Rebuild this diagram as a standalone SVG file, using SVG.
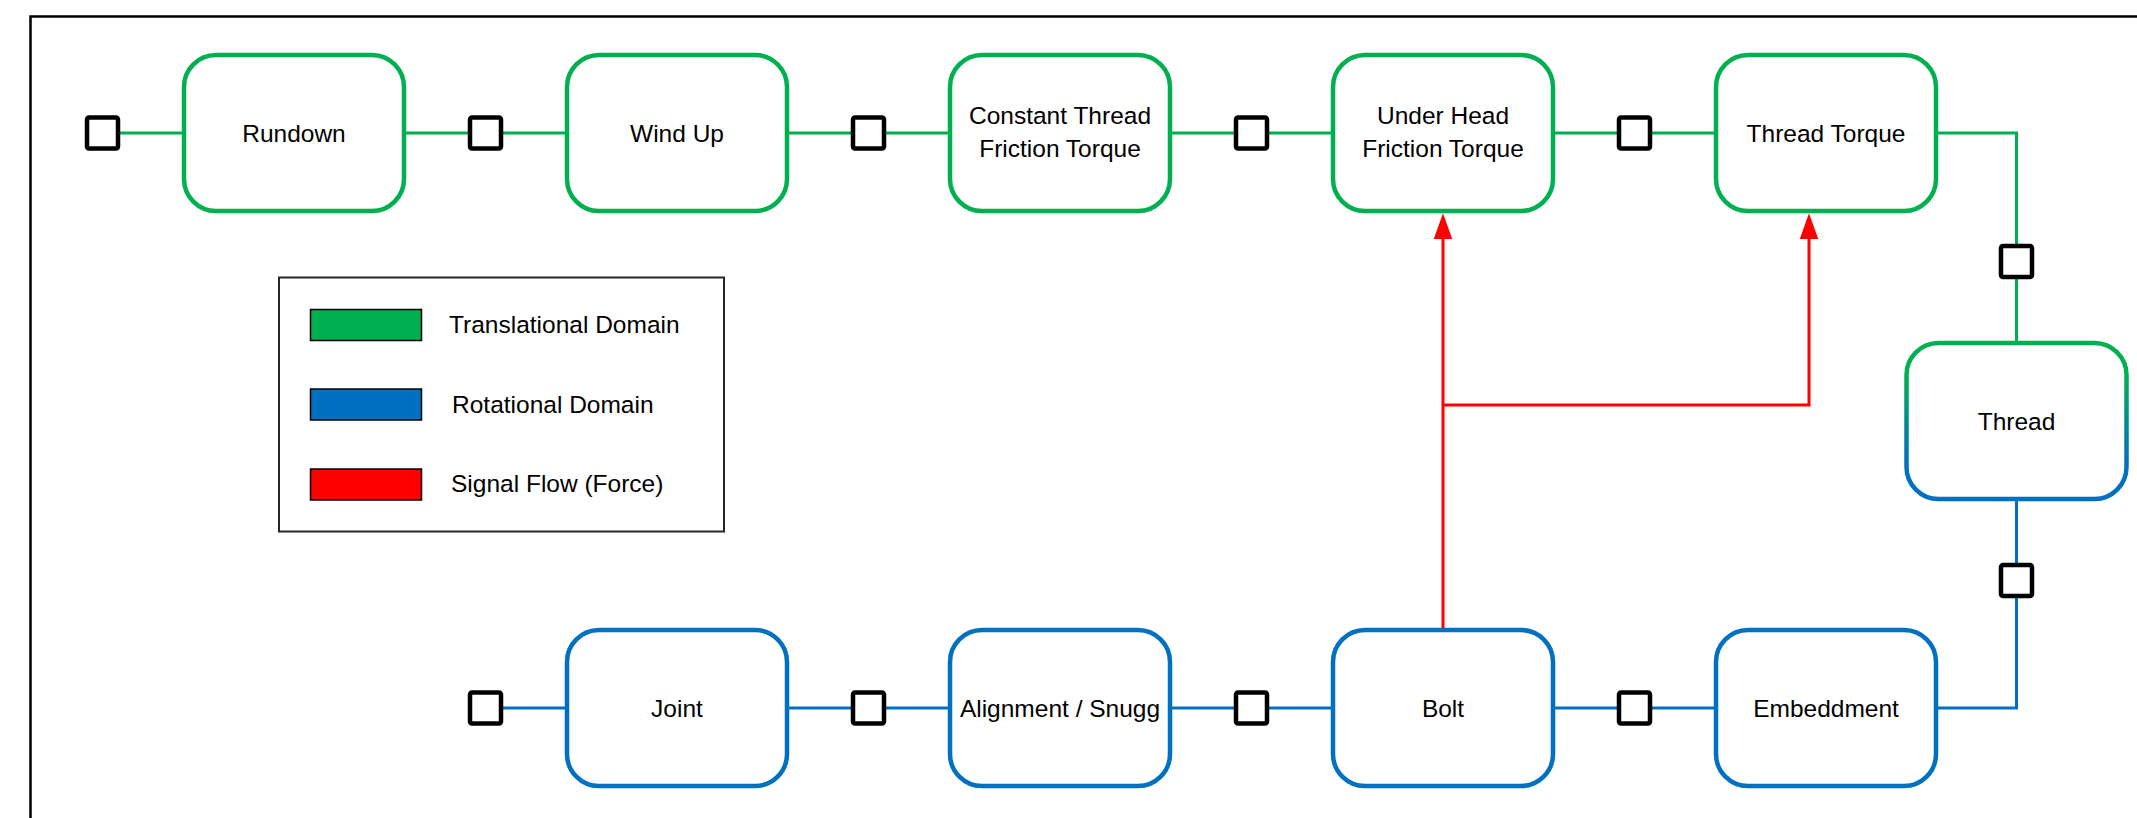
<svg xmlns="http://www.w3.org/2000/svg" width="2137" height="818" viewBox="0 0 2137 818">
<style>
.box{fill:#fff;stroke-width:4.5}
.g{stroke:#00B050}
.b{stroke:#0070C0}
.port{fill:#fff;stroke:#000;stroke-width:4.5}
.lbl{font-family:"Liberation Sans",Arial,sans-serif;font-size:24.5px;fill:#000;text-anchor:middle}
.leg{font-family:"Liberation Sans",Arial,sans-serif;font-size:24.5px;fill:#000}
.cg{fill:none;stroke:#00B050;stroke-width:3}
.cb{fill:none;stroke:#0070C0;stroke-width:3}
.cr{fill:none;stroke:#FF0000;stroke-width:3;marker-end:url(#arr)}
.sw{stroke:#000;stroke-width:1.5}
</style>
<defs>
<linearGradient id="gb" x1="0" y1="0" x2="0" y2="1">
<stop offset="0.2" stop-color="#00B050"/>
<stop offset="0.75" stop-color="#0070C0"/>
</linearGradient>
<marker id="arr" markerUnits="userSpaceOnUse" markerWidth="26" markerHeight="20" viewBox="0 0 25 18" refX="20.5" refY="9" orient="auto">
<path d="M0,0 L25,9 L0,18 z" fill="#FF0000"/>
</marker>
</defs>
<rect width="2137" height="818" fill="#fff"/>
<path d="M30.5,818 V16.5 H2137" fill="none" stroke="#000" stroke-width="2.5"/>

<g id="connectors">
<path class="cg" d="M102.5,133 H184"/>
<path class="cg" d="M404,133 H567"/>
<path class="cg" d="M787,133 H950"/>
<path class="cg" d="M1170,133 H1333"/>
<path class="cg" d="M1553,133 H1716"/>
<path class="cg" d="M1936,133 H2016.5 V343"/>
<path class="cb" d="M485.5,708 H567"/>
<path class="cb" d="M787,708 H950"/>
<path class="cb" d="M1170,708 H1333"/>
<path class="cb" d="M1553,708 H1716"/>
<path class="cb" d="M1936,708 H2016.5 V499"/>
<path class="cr" d="M1443,630 V218"/>
<path class="cr" d="M1443,405 H1809 V218"/>
</g>

<g id="ports">
<rect class="port" x="87" y="117.5" width="31" height="31" rx="2"/>
<rect class="port" x="470" y="117.5" width="31" height="31" rx="2"/>
<rect class="port" x="853" y="117.5" width="31" height="31" rx="2"/>
<rect class="port" x="1236" y="117.5" width="31" height="31" rx="2"/>
<rect class="port" x="1619" y="117.5" width="31" height="31" rx="2"/>
<rect class="port" x="2001" y="246" width="31" height="31" rx="2"/>
<rect class="port" x="2001" y="565" width="31" height="31" rx="2"/>
<rect class="port" x="470" y="692.5" width="31" height="31" rx="2"/>
<rect class="port" x="853" y="692.5" width="31" height="31" rx="2"/>
<rect class="port" x="1236" y="692.5" width="31" height="31" rx="2"/>
<rect class="port" x="1619" y="692.5" width="31" height="31" rx="2"/>
</g>

<g id="rundown">
<rect class="box g" x="184" y="55" width="220" height="156" rx="32"/>
<text class="lbl" x="294" y="141.5">Rundown</text>
</g>
<g id="windup">
<rect class="box g" x="567" y="55" width="220" height="156" rx="32"/>
<text class="lbl" x="677" y="141.5">Wind Up</text>
</g>
<g id="constant-thread">
<rect class="box g" x="950" y="55" width="220" height="156" rx="32"/>
<text class="lbl" x="1060" y="124">Constant Thread</text>
<text class="lbl" x="1060" y="157">Friction Torque</text>
</g>
<g id="under-head">
<rect class="box g" x="1333" y="55" width="220" height="156" rx="32"/>
<text class="lbl" x="1443" y="124">Under Head</text>
<text class="lbl" x="1443" y="157">Friction Torque</text>
</g>
<g id="thread-torque">
<rect class="box g" x="1716" y="55" width="220" height="156" rx="32"/>
<text class="lbl" x="1826" y="141.5">Thread Torque</text>
</g>
<g id="thread">
<rect class="box" stroke="url(#gb)" x="1906.5" y="343" width="220" height="156" rx="32"/>
<text class="lbl" x="2016.5" y="429.5">Thread</text>
</g>
<g id="joint">
<rect class="box b" x="567" y="630" width="220" height="156" rx="32"/>
<text class="lbl" x="677" y="716.5">Joint</text>
</g>
<g id="alignment">
<rect class="box b" x="950" y="630" width="220" height="156" rx="32"/>
<text class="lbl" x="1060" y="716.5">Alignment / Snugg</text>
</g>
<g id="bolt">
<rect class="box b" x="1333" y="630" width="220" height="156" rx="32"/>
<text class="lbl" x="1443" y="716.5">Bolt</text>
</g>
<g id="embeddment">
<rect class="box b" x="1716" y="630" width="220" height="156" rx="32"/>
<text class="lbl" x="1826" y="716.5">Embeddment</text>
</g>

<g id="legend">
<rect x="279" y="277.5" width="445" height="254" fill="#fff" stroke="#262626" stroke-width="2"/>
<rect class="sw" x="310.5" y="309.5" width="111" height="31" fill="#00B050"/>
<rect class="sw" x="310.5" y="389" width="111" height="31" fill="#0070C0"/>
<rect class="sw" x="310.5" y="469" width="111" height="31" fill="#FF0000"/>
<text class="leg" x="449" y="333">Translational Domain</text>
<text class="leg" x="452" y="413">Rotational Domain</text>
<text class="leg" x="451" y="492">Signal Flow (Force)</text>
</g>
</svg>
